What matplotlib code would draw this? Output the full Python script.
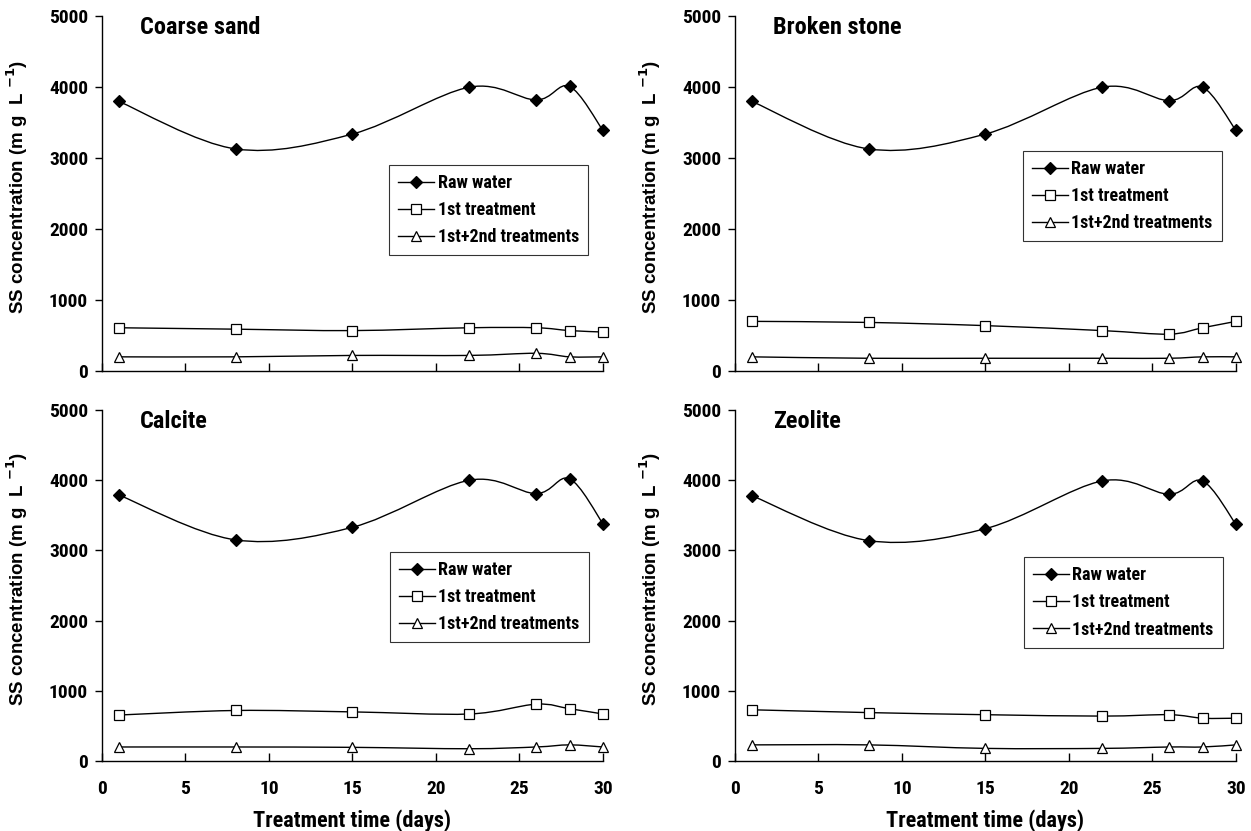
import numpy as np
import matplotlib.pyplot as plt
from matplotlib import font_manager
from matplotlib.path import Path
from matplotlib.patches import PathPatch
from matplotlib.lines import Line2D

# the original uses Arial Narrow Bold; take the first condensed bold face we have
bold_faces = {f.name for f in font_manager.fontManager.ttflist if f.weight in (700, "bold")}
NARROW = "Liberation Sans"
for cand in ["Liberation Sans Narrow", "Arial Narrow", "Roboto Condensed",
             "IBM Plex Sans Condensed", "Fira Sans Condensed", "Asap Condensed"]:
    if cand in bold_faces:
        NARROW = cand
        break
WIDE = "Liberation Sans"

# data
days = [1, 8, 15, 22, 26, 28, 30]
panels = ["Coarse sand", "Broken stone", "Calcite", "Zeolite"]

raw_coarse = [3800, 3130, 3340, 4000, 3820, 4010, 3390]
first_coarse = [610, 590, 570, 610, 610, 570, 550]
second_coarse = [200, 200, 220, 220, 250, 200, 200]

raw_broken = [3800, 3130, 3340, 4000, 3810, 4000, 3390]
first_broken = [700, 685, 640, 570, 520, 610, 700]
second_broken = [200, 180, 180, 180, 180, 200, 200]

raw_calcite = [3790, 3150, 3330, 4000, 3810, 4020, 3380]
first_calcite = [655, 720, 700, 670, 810, 745, 670]
second_calcite = [200, 200, 195, 175, 200, 230, 200]

raw_zeolite = [3780, 3140, 3310, 3990, 3800, 3990, 3370]
first_zeolite = [730, 690, 660, 640, 660, 610, 610]
second_zeolite = [230, 230, 180, 180, 200, 200, 230]

series_labels = ["Raw water", "1st treatment", "1st+2nd treatments"]
panel_data = [
    (raw_coarse, first_coarse, second_coarse),
    (raw_broken, first_broken, second_broken),
    (raw_calcite, first_calcite, second_calcite),
    (raw_zeolite, first_zeolite, second_zeolite),
]


def smooth_path(x, y):
    # Excel-style smoothed line: cubic bezier, control points from neighbours
    p = np.column_stack([x, y]).astype(float)
    n = len(p)
    verts = [p[0]]
    codes = [Path.MOVETO]
    for i in range(n - 1):
        p0 = p[i - 1] if i > 0 else p[i]
        p3 = p[i + 2] if i + 2 < n else p[i + 1]
        c1 = p[i] + (p[i + 1] - p0) / 6
        c2 = p[i + 1] - (p3 - p[i]) / 6
        verts += [c1, c2, p[i + 1]]
        codes += [Path.CURVE4] * 3
    return Path(verts, codes)


markers = [
    dict(marker="D", markersize=6.5, markerfacecolor="black"),
    dict(marker="s", markersize=7, markerfacecolor="white"),
    dict(marker="^", markersize=7, markerfacecolor="white"),
]

fig = plt.figure(figsize=(12.51, 8.31), dpi=100)
positions = [
    [0.0815, 0.5535, 0.4005, 0.427],
    [0.5875, 0.5535, 0.4005, 0.427],
    [0.0815, 0.0842, 0.4005, 0.4224],
    [0.5875, 0.0842, 0.4005, 0.4224],
]
legend_anchor = [(0.573, 0.58), (0.574, 0.62), (0.574, 0.595), (0.576, 0.58)]

for k, (name, series) in enumerate(zip(panels, panel_data)):
    ax = fig.add_axes(positions[k])
    for vals, mk in zip(series, markers):
        ax.add_patch(PathPatch(smooth_path(days, vals), facecolor="none",
                               edgecolor="black", lw=1.0, clip_on=False))
        ax.plot(days, vals, ls="none", color="black", markeredgewidth=0.9,
                clip_on=False, zorder=3, **mk)

    ax.set_xlim(0, 30)
    ax.set_ylim(0, 5000)
    ax.set_xticks([0, 5, 10, 15, 20, 25, 30])
    ax.set_yticks([0, 1000, 2000, 3000, 4000, 5000])
    ax.spines["top"].set_visible(False)
    ax.spines["right"].set_visible(False)
    for s in ["left", "bottom"]:
        ax.spines[s].set_linewidth(1.0)
    ax.tick_params(axis="y", direction="out", length=5, width=1.0, pad=5)
    ax.tick_params(axis="x", direction="in", length=6, width=1.0, pad=14)
    for lab in ax.get_yticklabels() + ax.get_xticklabels():
        lab.set_fontfamily(NARROW)
        lab.set_fontweight("bold")
        lab.set_fontsize(14)
    if k < 2:
        ax.set_xticklabels([])
    else:
        ax.set_xlabel("Treatment time (days)", fontfamily=NARROW,
                      fontweight="bold", fontsize=16, labelpad=8)

    ax.set_ylabel("SS concentration (m g  L $^{\\mathbf{-1}}$)",
                  fontfamily=WIDE, fontweight="bold", fontsize=13.5)
    ax.yaxis.set_label_coords(-0.143, 0.52)
    ax.text(0.076, 1.0, name, transform=ax.transAxes, ha="left", va="top",
            fontfamily=NARROW, fontweight="bold", fontsize=17.5)

    handles = [Line2D([], [], color="black", lw=1.0, markeredgewidth=0.9, **mk)
               for mk in markers]
    leg = ax.legend(handles, series_labels, loc="upper left",
                    bbox_to_anchor=legend_anchor[k], frameon=True, fancybox=False,
                    edgecolor="black", handlelength=2.0, handletextpad=0.2,
                    labelspacing=0.5, borderpad=0.5, borderaxespad=0,
                    prop=dict(family=NARROW, weight="bold", size=13))
    leg.get_frame().set_linewidth(0.8)

fig.savefig("out.png", dpi=100)
